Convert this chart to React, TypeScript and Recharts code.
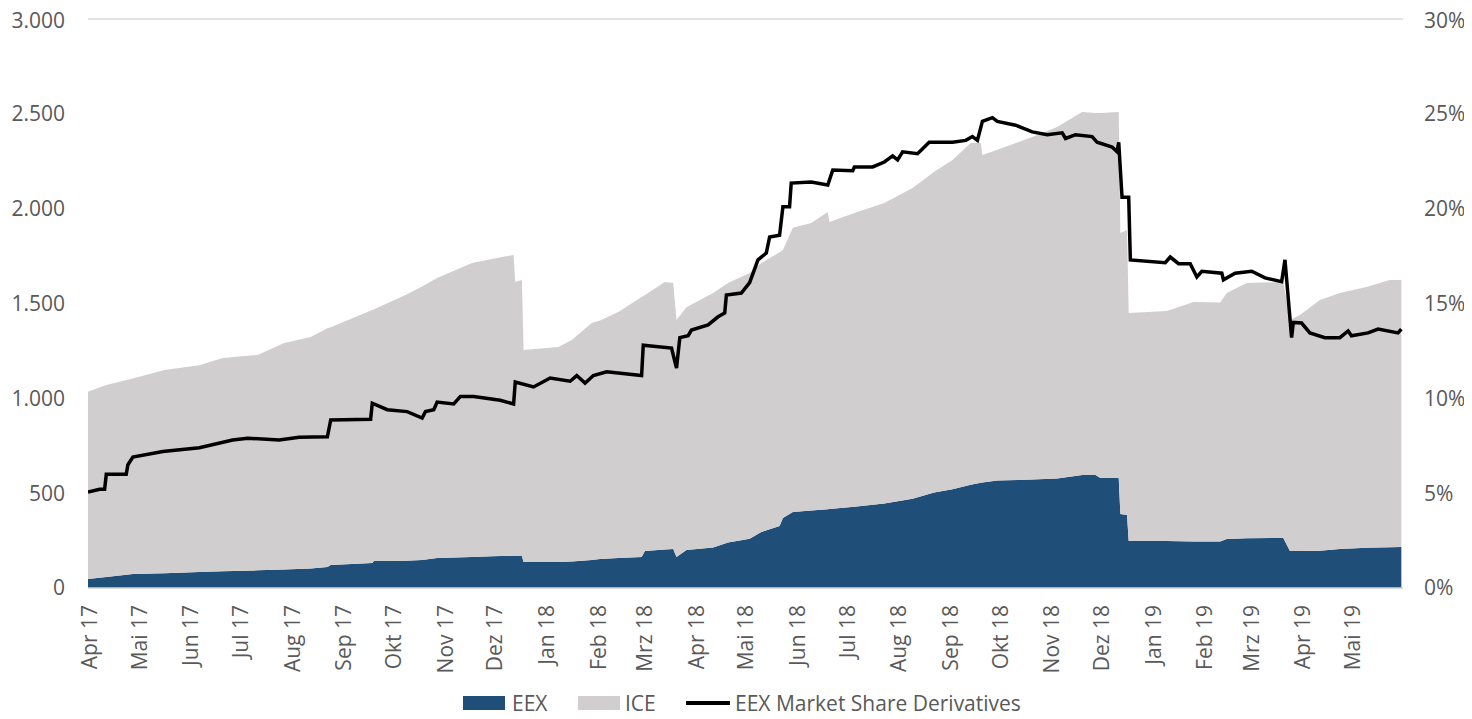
import {
  ComposedChart,
  Area,
  Line,
  XAxis,
  YAxis,
  CartesianGrid,
  Legend,
} from 'recharts'

// x values are days counted from 1 Apr 2017
const monthTicks = [0, 30, 61, 91, 122, 153, 183, 214, 244, 275, 306, 334, 365, 395, 426, 456, 487, 518, 548, 579, 609, 640, 671, 699, 730, 760]
const monthLabels = [
  'Apr 17', 'Mai 17', 'Jun 17', 'Jul 17', 'Aug 17', 'Sep 17', 'Okt 17', 'Nov 17', 'Dez 17',
  'Jan 18', 'Feb 18', 'Mrz 18', 'Apr 18', 'Mai 18', 'Jun 18', 'Jul 18', 'Aug 18', 'Sep 18',
  'Okt 18', 'Nov 18', 'Dez 18', 'Jan 19', 'Feb 19', 'Mrz 19', 'Apr 19', 'Mai 19',
]

// volumes (stacked areas)
const volumeDays = [
  0, 11, 27, 46, 67, 81, 102, 118, 134, 144, 146, 171, 172, 191, 201, 210, 231, 243, 256, 257,
  261, 262, 283, 291, 303, 308, 319, 333, 335, 347, 352, 354, 360, 376, 385, 398, 405, 416, 418, 424,
  435, 445, 446, 461, 479, 496, 509, 520, 531, 537, 538, 547, 568, 583, 598, 606, 609, 620, 621, 625,
  626, 649, 665, 681, 685, 697, 719, 723, 729, 741, 753, 769, 783, 790,
]
const eexVolume = [
  47, 58, 74, 78, 84, 88, 93, 97, 103, 111, 121, 132, 142, 144, 148, 158, 163, 167, 170, 170,
  169, 137, 137, 140, 148, 153, 158, 163, 195, 203, 206, 163, 200, 214, 240, 260, 295, 327, 369, 401,
  408, 415, 416, 428, 445, 470, 503, 520, 545, 555, 556, 567, 572, 577, 596, 596, 580, 580, 390, 385,
  248, 248, 245, 245, 258, 262, 264, 195, 195, 197, 205, 212, 215, 216,
]
const iceVolume = [
  988, 1012, 1031, 1072, 1091, 1125, 1136, 1195, 1221, 1259, 1254, 1334, 1328, 1401, 1442, 1476, 1550, 1568, 1586, 1443,
  1455, 1118, 1134, 1168, 1249, 1257, 1297, 1371, 1350, 1410, 1402, 1250, 1280, 1341, 1368, 1401, 1418, 1443, 1413, 1499,
  1517, 1568, 1514, 1549, 1585, 1639, 1691, 1737, 1801, 1791, 1727, 1743, 1806, 1854, 1914, 1909, 1925, 1930, 1482, 1503,
  1202, 1212, 1263, 1260, 1297, 1346, 1349, 1218, 1245, 1321, 1350, 1375, 1409, 1408,
]

// EEX market share (%)
const shareDays = [
  0, 7, 10, 11, 23, 24, 27, 45, 67, 87, 96, 115, 127, 144, 146, 170, 171, 180, 192, 201,
  203, 208, 210, 220, 224, 232, 248, 256, 257, 268, 278, 290, 294, 299, 304, 312, 333, 334, 351, 354,
  356, 361, 363, 373, 379, 383, 384, 393, 398, 403, 408, 410, 416, 418, 422, 423, 435, 445, 448, 460,
  461, 472, 479, 484, 487, 490, 499, 506, 520, 528, 532, 535, 538, 544, 547, 558, 568, 577, 586, 588,
  594, 604, 607, 616, 619, 620, 622, 626, 627, 648, 651, 656, 663, 667, 670, 682, 683, 690, 700, 708,
  718, 720, 724, 725, 730, 735, 744, 753, 758, 760, 770, 776, 788, 790,
]
const eexShare = [
  5.06, 5.2, 5.2, 6.0, 6.0, 6.5, 6.9, 7.2, 7.4, 7.8, 7.9, 7.8, 7.95, 7.97, 8.86, 8.9, 9.74, 9.4, 9.3, 8.96,
  9.3, 9.4, 9.8, 9.7, 10.1, 10.1, 9.9, 9.7, 10.86, 10.6, 11.07, 10.9, 11.2, 10.8, 11.2, 11.4, 11.2, 12.8, 12.65, 11.6,
  13.2, 13.3, 13.6, 13.87, 14.3, 14.5, 15.45, 15.55, 16.1, 17.3, 17.66, 18.5, 18.6, 20.1, 20.1, 21.35, 21.4, 21.25, 22.04, 22.0,
  22.2, 22.2, 22.46, 22.78, 22.57, 23.0, 22.9, 23.5, 23.5, 23.6, 23.8, 23.6, 24.6, 24.8, 24.6, 24.4, 24.05, 23.9, 24.0, 23.7,
  23.9, 23.8, 23.5, 23.25, 23.0, 23.5, 20.6, 20.6, 17.3, 17.15, 17.45, 17.1, 17.1, 16.4, 16.7, 16.6, 16.25, 16.6, 16.7, 16.35,
  16.15, 17.3, 13.2, 14.0, 13.97, 13.45, 13.2, 13.2, 13.55, 13.3, 13.45, 13.65, 13.45, 13.65,
]

const volumeData = volumeDays.map((day, i) => ({ day, eex: eexVolume[i], ice: iceVolume[i] }))
const shareData = shareDays.map((day, i) => ({ day, share: eexShare[i] }))

const EEX_COLOR = '#1F4E79'
const ICE_COLOR = '#D0CECE'
const TEXT_COLOR = '#595959'
const FONT = "'Open Sans', sans-serif"
const FONT_SIZE = 21

const germanNumber = (v: number) => String(v).replace(/\B(?=(\d{3})+(?!\d))/g, '.')

function MonthTick({ x, y, payload }: any) {
  const label = monthLabels[monthTicks.indexOf(payload.value)]
  return (
    <text
      x={x}
      y={y}
      transform={`rotate(-90 ${x} ${y})`}
      textAnchor="end"
      dy="0.42em"
      fill={TEXT_COLOR}
      fontSize={FONT_SIZE}
      fontFamily={FONT}
    >
      {label}
    </text>
  )
}

function ChartLegend() {
  const text = { position: 'absolute' as const, top: 0, lineHeight: '18px', fontSize: FONT_SIZE, fontFamily: FONT, color: TEXT_COLOR, whiteSpace: 'nowrap' as const }
  return (
    <div style={{ position: 'relative', width: 1456, height: 18 }}>
      <div style={{ position: 'absolute', left: 455, top: 2, width: 42, height: 14, background: EEX_COLOR }} />
      <span style={{ ...text, left: 504 }}>EEX</span>
      <div style={{ position: 'absolute', left: 570, top: 2, width: 42, height: 14, background: ICE_COLOR }} />
      <span style={{ ...text, left: 617 }}>ICE</span>
      <div style={{ position: 'absolute', left: 678, top: 7, width: 44, height: 3.5, background: '#000' }} />
      <span style={{ ...text, left: 727 }}>EEX Market Share Derivatives</span>
    </div>
  )
}

export default function App() {
  return (
    <div>
      <style>{'.recharts-surface { overflow: visible; }'}</style>
      <ComposedChart
        width={1456}
        height={703}
        data={volumeData}
        margin={{ top: 11, right: 0, bottom: 23, left: 0 }}
      >
        <CartesianGrid vertical={false} stroke="#D9D9D9" strokeWidth={1.5} />
        <XAxis
          dataKey="day"
          type="number"
          domain={[0, 791]}
          ticks={monthTicks}
          interval={0}
          tick={<MonthTick />}
          tickSize={0}
          tickMargin={17}
          height={100}
          axisLine={{ stroke: '#D9D9D9', strokeWidth: 1.5 }}
          allowDataOverflow
        />
        <YAxis
          yAxisId="left"
          width={80}
          domain={[0, 3000]}
          ticks={[0, 500, 1000, 1500, 2000, 2500, 3000]}
          tickFormatter={germanNumber}
          axisLine={false}
          tickLine={false}
          tickSize={0}
          tickMargin={23}
          tick={{ fill: TEXT_COLOR, fontSize: FONT_SIZE, fontFamily: FONT }}
        />
        <YAxis
          yAxisId="right"
          orientation="right"
          width={61}
          domain={[0, 30]}
          ticks={[0, 5, 10, 15, 20, 25, 30]}
          tickFormatter={(v: number) => `${v}%`}
          axisLine={false}
          tickLine={false}
          tickSize={0}
          tickMargin={21}
          tick={{ fill: TEXT_COLOR, fontSize: FONT_SIZE, fontFamily: FONT, textAnchor: 'start' }}
        />
        <Legend
          verticalAlign="middle"
          align="center"
          content={<ChartLegend />}
          wrapperStyle={{ top: 686, left: 0, width: 1456 }}
        />
        <Area
          yAxisId="left"
          dataKey="eex"
          name="EEX"
          stackId="vol"
          type="linear"
          fill={EEX_COLOR}
          fillOpacity={1}
          stroke="none"
          isAnimationActive={false}
        />
        <Area
          yAxisId="left"
          dataKey="ice"
          name="ICE"
          stackId="vol"
          type="linear"
          fill={ICE_COLOR}
          fillOpacity={1}
          stroke="none"
          isAnimationActive={false}
        />
        <Line
          yAxisId="right"
          data={shareData}
          dataKey="share"
          name="EEX Market Share Derivatives"
          type="linear"
          stroke="#000000"
          strokeWidth={3.5}
          dot={false}
          activeDot={false}
          isAnimationActive={false}
        />
      </ComposedChart>
    </div>
  )
}
